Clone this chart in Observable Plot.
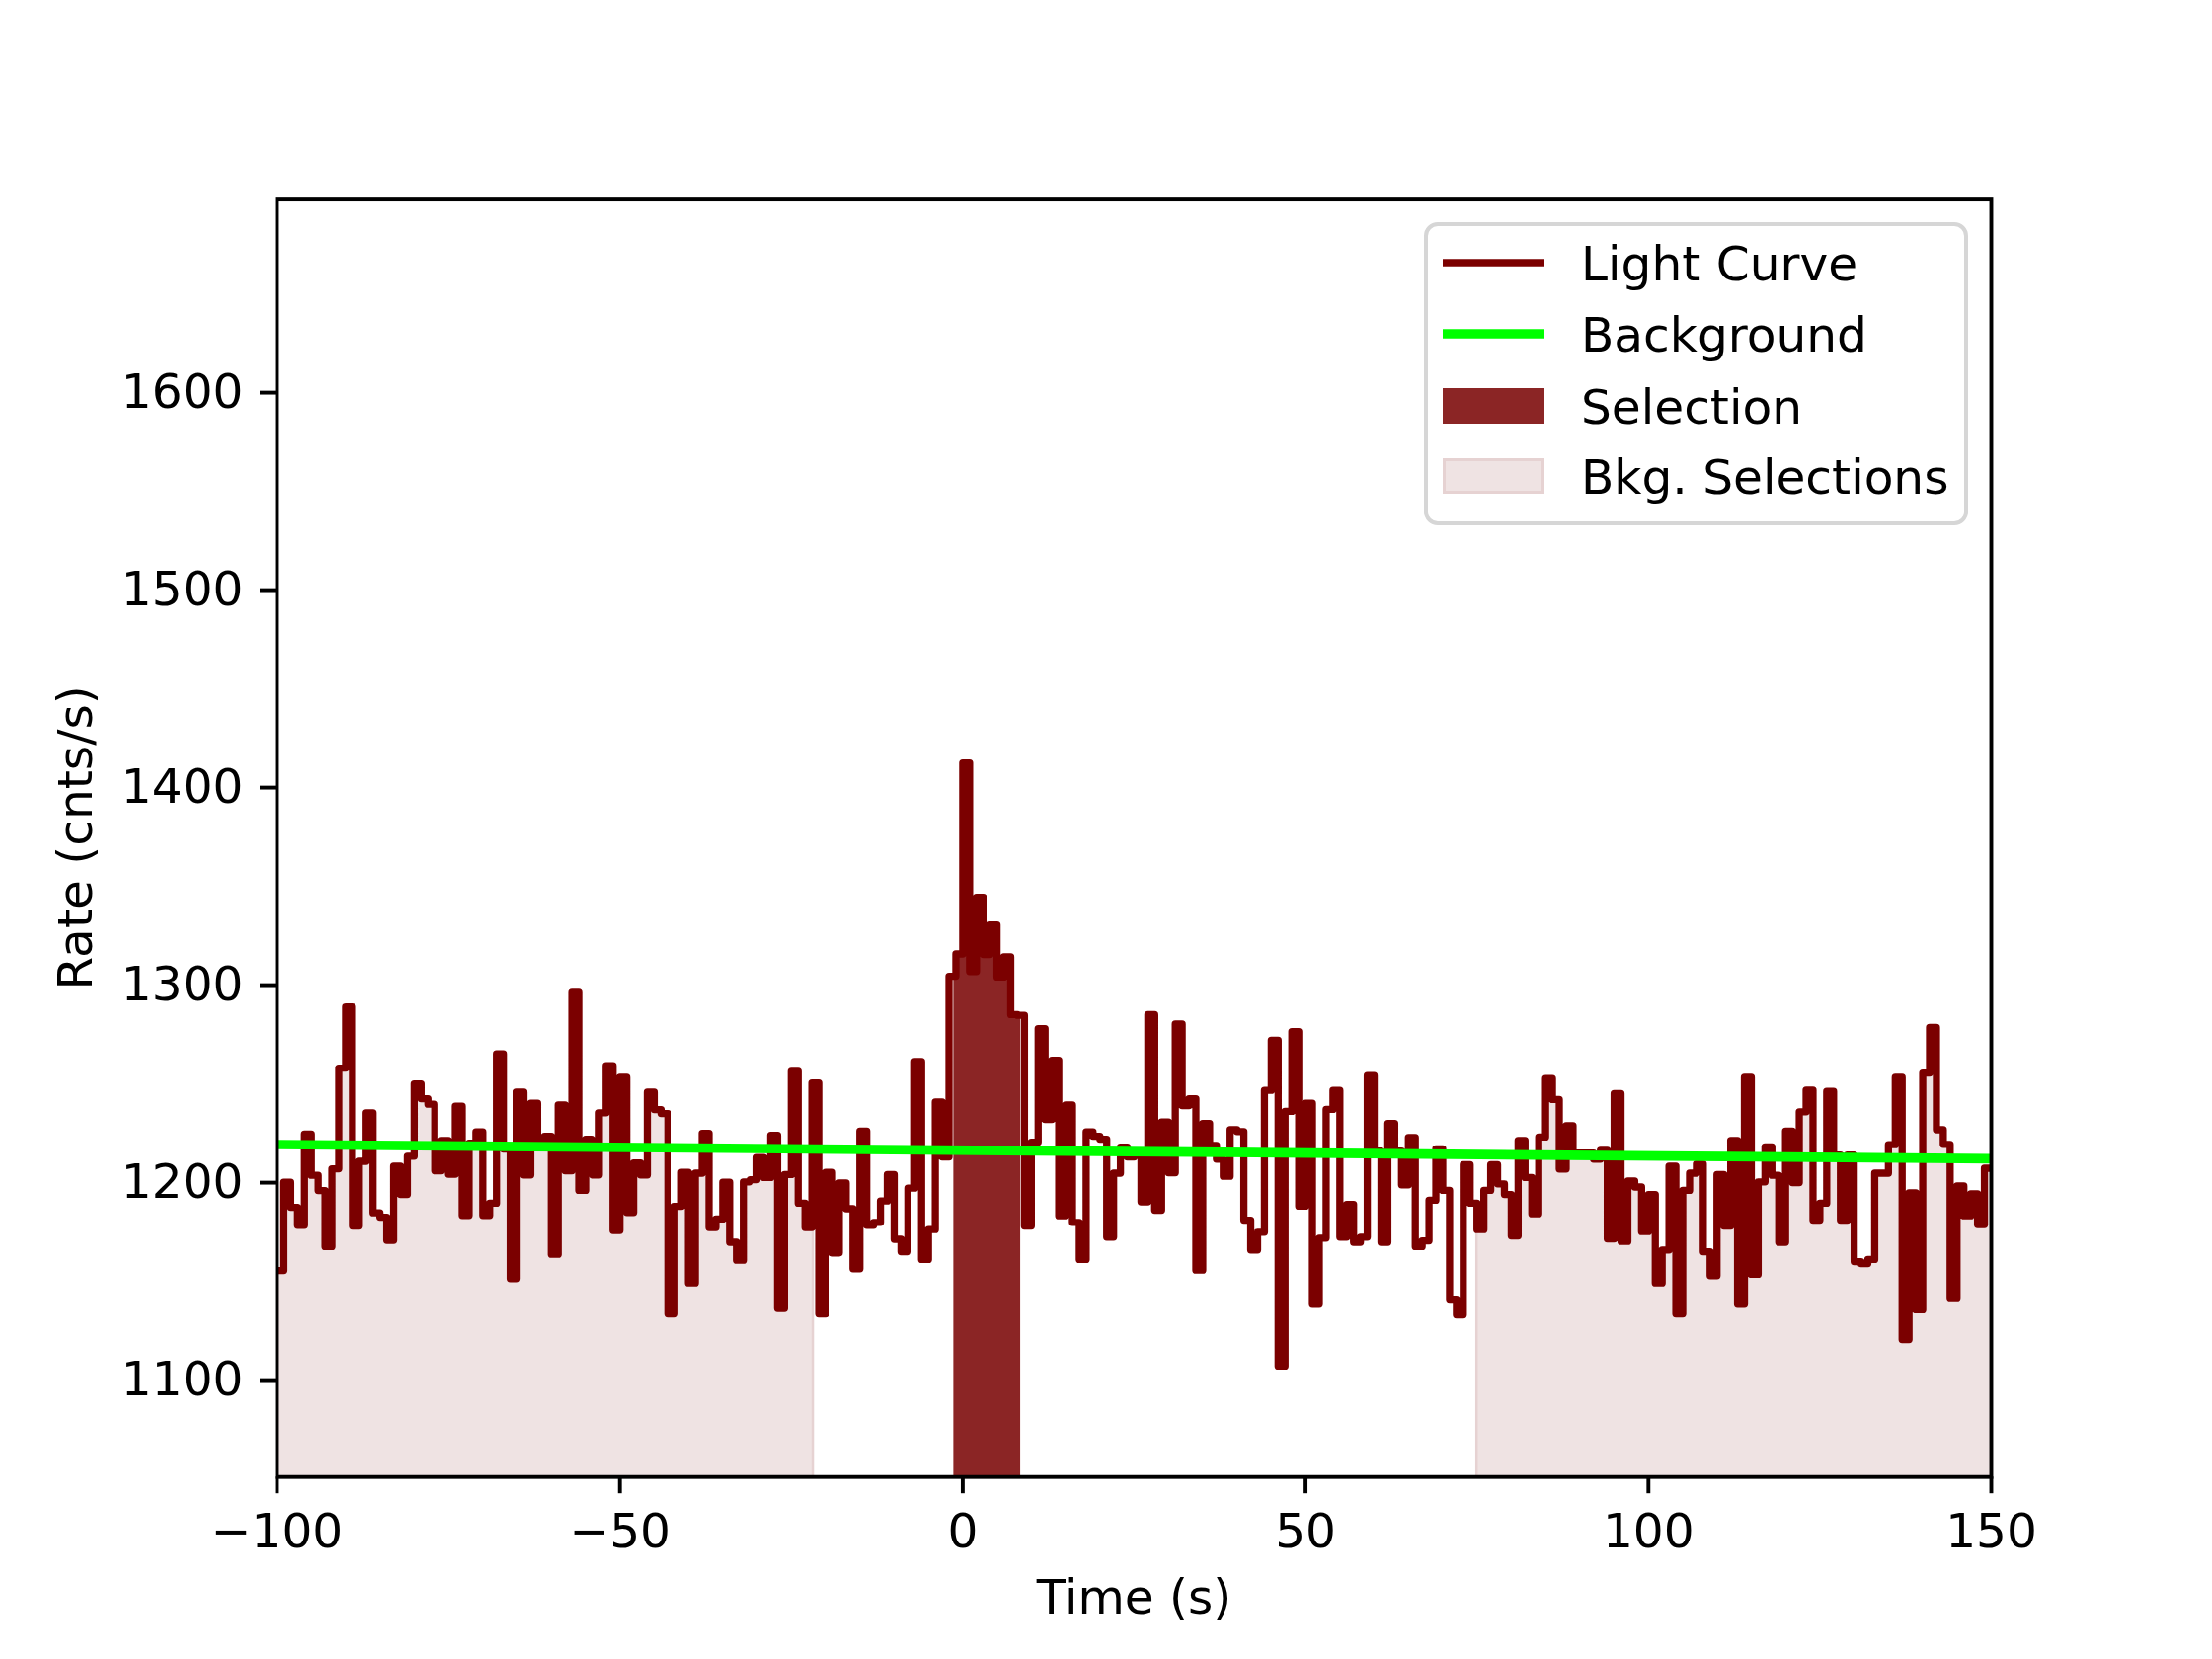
<!DOCTYPE html>
<html><head><meta charset="utf-8">
<script src="https://cdn.jsdelivr.net/npm/d3@7"></script>
<script src="https://cdn.jsdelivr.net/npm/@observablehq/plot@0.6"></script>
<style>html,body{margin:0;padding:0;background:#fff;}#chart{width:2240px;height:1680px;}</style>
</head><body><div id="chart"></div>
<script>
// ---- data ----
const binStart = -100;   // start of first 1-s bin
const binWidth = 1;
const rates = [
  1155.5, 1200.2, 1187.5, 1178.4, 1224.6, 1203.7, 1196, 1167.6, 1207, 1258,
  1289, 1178, 1210.8, 1235.4, 1184.7, 1182.5, 1170.8, 1208.4, 1194, 1213.4,
  1250, 1242.5, 1239.7, 1206, 1221.4, 1204.3, 1238.7, 1183.4, 1220, 1225.7,
  1183.4, 1189.6, 1265.2, 1217, 1151.4, 1245.8, 1203.9, 1240.2, 1221, 1223.5,
  1163.7, 1239.3, 1206, 1296.3, 1196.1, 1222, 1203.9, 1235.4, 1259.2, 1175.8,
  1253.3, 1184.9, 1210, 1203.9, 1245.8, 1237, 1235, 1133.5, 1188, 1205.2,
  1149.2, 1204.8, 1225, 1177.3, 1181.6, 1200.2, 1169.8, 1160.7, 1200.4, 1201.5,
  1212.7, 1202.6, 1224, 1136.3, 1204.1, 1256.4, 1189.6, 1177.3, 1250.5, 1133.5,
  1205.2, 1164.4, 1199.8, 1186.8, 1156.4, 1226.1, 1178.4, 1179.9, 1190.7, 1204.1,
  1171.3, 1165, 1197.2, 1261.3, 1161.1, 1176.2, 1240.8, 1213, 1304.5, 1315.8,
  1412.5, 1306.9, 1344.5, 1315.5, 1330.5, 1304.1, 1314.3, 1285.1, 1284.7, 1178,
  1220.5, 1278, 1232, 1262, 1183.2, 1239.3, 1179.9, 1161.1, 1225.7, 1223.5,
  1222, 1172.4, 1204.8, 1218, 1213, 1214, 1190.3, 1285.1, 1186, 1230.7,
  1205, 1280.3, 1239, 1242.5, 1155.7, 1230, 1218.8, 1211.9, 1203.2, 1226.8,
  1225.9, 1181, 1165.9, 1174.9, 1246.7, 1272.1, 1107.1, 1236.1, 1276.5, 1188.1,
  1240.2, 1138.4, 1171.9, 1237.1, 1246.7, 1172.4, 1189, 1169.8, 1172.4, 1254.2,
  1216, 1169.8, 1230, 1216, 1198.9, 1222.9, 1167.6, 1170.5, 1191.1, 1217.1,
  1196.1, 1141, 1133, 1209.1, 1189.6, 1176.2, 1196.1, 1209.1, 1199.4, 1194,
  1173, 1221.4, 1202.6, 1184.2, 1223.1, 1252.7, 1242.1, 1206.9, 1228.9, 1215,
  1215, 1215, 1211.9, 1216.4, 1171.5, 1245.1, 1170.2, 1200.9, 1197.8, 1175.2,
  1194, 1149.2, 1165.9, 1208.4, 1133.5, 1196.1, 1204.8, 1209.5, 1165, 1152.9,
  1204.1, 1178, 1221.4, 1138.4, 1253.3, 1153.6, 1200.4, 1218.1, 1203.7, 1169.8,
  1226.1, 1200, 1235.9, 1246.9, 1181, 1189.6, 1246.2, 1214, 1181, 1214,
  1160, 1159, 1161.1, 1204.8, 1204.8, 1219.2, 1253.3, 1120.5, 1194.8, 1135.6,
  1255.5, 1278.6, 1226.8, 1219.4, 1141.7, 1198.3, 1183.2, 1194.4, 1178.8, 1207.3
];
const backgroundTimes = [-100, 150];
const backgroundRates = [1219.3, 1212.1];
const selectionRange = [-1.3, 8.45];
const bkgRanges = [[-100, -21.8], [75, 150]];
const xTicks = [-100, -50, 0, 50, 100, 150];
const yTicks = [1100, 1200, 1300, 1400, 1500, 1600];
const xDomain = [-100, 150];
const yDomain = [1050.95, 1697.75];
const legendLabels = ["Light Curve", "Background", "Selection", "Bkg. Selections"];
const xLabel = "Time (s)";
const yLabel = "Rate (cnts/s)";

// ---- derived tables ----
const times = rates.map((_, i) => binStart + i * binWidth);
const lc = rates.map((v, i) => ({t: times[i], v}));
lc.push({t: times[times.length - 1] + binWidth, v: rates[rates.length - 1]});
const idx = t => Math.min(rates.length - 1, Math.max(0, Math.floor((t - binStart) / binWidth)));
function segment(a, b) {
  const pts = [{t: a, v: rates[idx(a)]}];
  for (let k = Math.ceil(a); k < b; k++) if (k > a) pts.push({t: k, v: rates[idx(k)]});
  pts.push({t: b, v: rates[idx(b - 1e-9)]});
  return pts;
}
const bg = backgroundTimes.map((t, i) => ({t, v: backgroundRates[i]}));

const LC = "#7b0000", SEL = "#8b2525", BKF = "#efe3e3", BKS = "#e6d2d2", BGC = "#00ff00";
const FS = 48.6;
const FONT = "'DejaVu Sans', sans-serif";
const minus = d => d < 0 ? "\u2212" + Math.abs(d) : String(d);

const chart = Plot.plot({
  width: 2240, height: 1680,
  marginLeft: 280, marginRight: 224, marginTop: 201.6, marginBottom: 184.8,
  style: {fontFamily: FONT, fontSize: FS + "px", background: "white", color: "black", overflow: "visible"},
  x: {domain: xDomain},
  y: {domain: yDomain},
  marks: [
    ...bkgRanges.map(r => Plot.areaY(segment(r[0], r[1]), {x: "t", y1: yDomain[0], y2: "v", curve: "step-after", fill: BKF, stroke: BKS, strokeWidth: 2.5, clip: true})),
    Plot.areaY(segment(selectionRange[0], selectionRange[1]), {x: "t", y1: yDomain[0], y2: "v", curve: "step-after", fill: SEL, clip: true}),
    Plot.line(lc, {x: "t", y: "v", curve: "step-after", stroke: LC, strokeWidth: 7.3, strokeLinejoin: "round", clip: true}),
    Plot.line(bg, {x: "t", y: "v", stroke: BGC, strokeWidth: 9.7, clip: true}),
    Plot.frame({stroke: "black", strokeWidth: 3.9}),
    Plot.axisX({ticks: xTicks, tickSize: 17, tickPadding: 20, strokeWidth: 3.9, fontSize: FS, label: null, tickFormat: minus}),
    Plot.axisY({ticks: yTicks, tickSize: 17, tickPadding: 17, strokeWidth: 3.9, fontSize: FS, label: null, tickFormat: d => String(d)}),
    Plot.text([xLabel], {text: d => d, frameAnchor: "bottom", dy: 123, fontSize: FS, lineAnchor: "middle"})
  ]
});
document.getElementById("chart").appendChild(chart);

const svg = d3.select(chart);

// ---- y axis label (rotated) ----
svg.append("text")
  .attr("transform", "translate(76,848.4) rotate(-90)")
  .attr("text-anchor", "middle").attr("dominant-baseline", "central")
  .attr("font-family", FONT).attr("font-size", FS).attr("fill", "black")
  .text(yLabel);

// ---- legend (inside the axes, upper right) ----
const g = svg.append("g").attr("font-family", FONT).attr("font-size", FS).attr("text-anchor", "start");
g.append("rect").attr("x", 1444).attr("y", 227).attr("width", 547).attr("height", 303)
  .attr("rx", 12).attr("fill", "white").attr("stroke", "#d6d6d6").attr("stroke-width", 4);
const rowY = [266, 338, 411, 482];
const hx0 = 1461, hx1 = 1564;
legendLabels.forEach((lab, i) => {
  const cy = rowY[i];
  if (i === 0) g.append("line").attr("x1", hx0).attr("x2", hx1).attr("y1", cy).attr("y2", cy).attr("stroke", LC).attr("stroke-width", 7.3);
  if (i === 1) g.append("line").attr("x1", hx0).attr("x2", hx1).attr("y1", cy).attr("y2", cy).attr("stroke", BGC).attr("stroke-width", 9.7);
  if (i === 2) g.append("rect").attr("x", hx0).attr("y", cy - 18).attr("width", hx1 - hx0).attr("height", 36).attr("fill", SEL);
  if (i === 3) g.append("rect").attr("x", hx0 + 1.5).attr("y", cy - 16.5).attr("width", hx1 - hx0 - 3).attr("height", 33).attr("fill", BKF).attr("stroke", BKS).attr("stroke-width", 3);
  g.append("text").attr("x", 1601).attr("y", cy + 17.5).attr("text-anchor", "start").attr("fill", "black").text(lab);
});
</script>
</body></html>
